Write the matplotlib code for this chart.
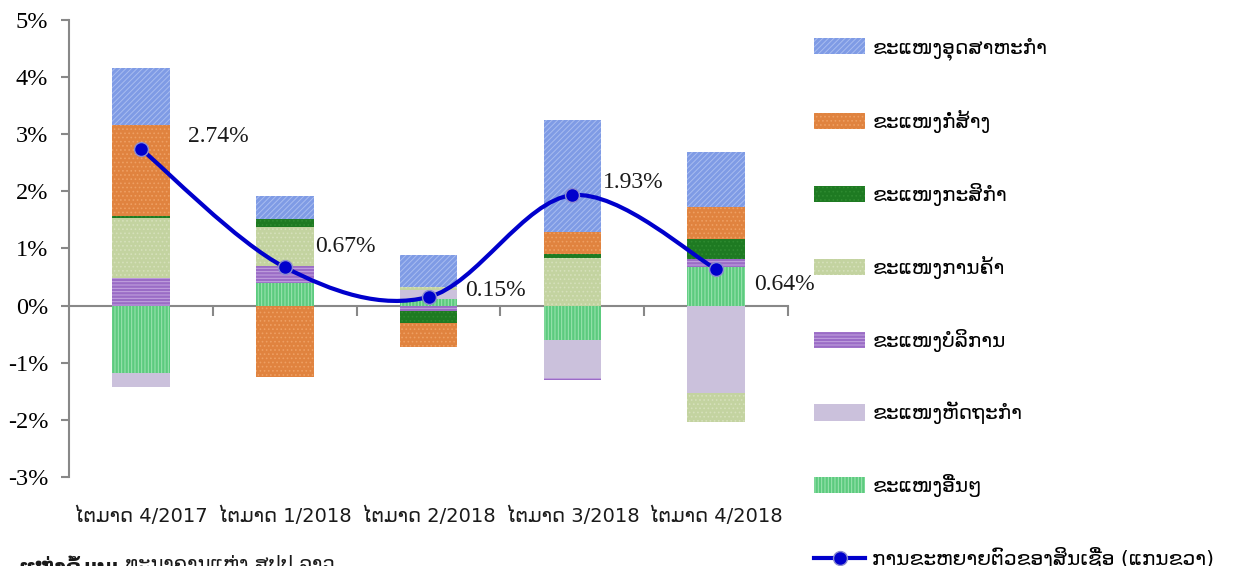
import matplotlib
matplotlib.use('Agg')
import matplotlib.pyplot as plt
from matplotlib.patches import Patch, PathPatch
from matplotlib.lines import Line2D
from matplotlib.path import Path
import numpy as np

quarters = ['ໄຕມາດ 4/2017', 'ໄຕມາດ 1/2018', 'ໄຕມາດ 2/2018', 'ໄຕມາດ 3/2018', 'ໄຕມາດ 4/2018']

# sector contributions (percentage points)
industry = [1.01, 0.40, 0.55, 1.96, 0.95]
construction = [1.59, -1.25, -0.43, 0.37, 0.57]
agriculture = [0.03, 0.15, -0.20, 0.07, 0.34]
trade = [1.04, 0.68, 0.05, 0.84, -0.51]
services = [0.49, 0.29, -0.10, -0.04, 0.15]
handicraft = [-0.24, 0.00, 0.16, -0.67, -1.53]
others = [-1.18, 0.40, 0.12, -0.60, 0.67]

credit_growth = [2.74, 0.67, 0.15, 1.93, 0.64]

names = ['ຂະແໜງອຸດສາຫະກຳ', 'ຂະແໜງກໍ່ສ້າງ', 'ຂະແໜງກະສິກຳ', 'ຂະແໜງການຄ້າ',
         'ຂະແໜງບໍລິການ', 'ຂະແໜງຫັດຖະກຳ', 'ຂະແໜງອື່ນໆ']
line_name = 'ການຂະຫຍາຍຕົວຂອງສິນເຊື່ອ (ແກນຂວາ)'
source_bold = 'ແຫຼ່ງຂໍ້ມູນ:'
source_text = ' ທະນາຄານແຫ່ງ ສປປ ລາວ'

# styles: face, hatch color, hatch
styles = {
    'industry': ('#7F9BE5', '#A8BCF0', '//////'),
    'construction': ('#E0833F', '#EE9F62', '....'),
    'agriculture': ('#1E7A22', '#2E8A30', '....'),
    'trade': ('#C3D3A0', '#D5E0BA', '....'),
    'services': ('#9A6CC6', '#C4A6E0', '-----'),
    'handicraft': ('#CBC1DC', '#CBC1DC', None),
    'others': ('#5CCB7E', '#9FE5B3', '|||||'),
}

plt.rcParams['hatch.linewidth'] = 0.7
serif = ['Liberation Serif', 'DejaVu Serif']
lao = 'DejaVu Sans'

fig = plt.figure(figsize=(12.35, 5.66), dpi=100)
ax = fig.add_axes([0.0559, 0.157, 0.5822, 0.8083])

x = np.arange(len(quarters))
# Excel stacking order (bottom first)
order = [('others', others), ('handicraft', handicraft), ('services', services),
         ('trade', trade), ('agriculture', agriculture),
         ('construction', construction), ('industry', industry)]
pos_base = np.zeros(len(x))
neg_base = np.zeros(len(x))
for key, vals in order:
    vals = np.array(vals)
    face, hc, hatch = styles[key]
    base = np.where(vals >= 0, pos_base, neg_base)
    ax.bar(x, vals, bottom=base, width=0.4, color=face, edgecolor=hc,
           hatch=hatch, linewidth=0, zorder=2)
    pos_base = pos_base + np.where(vals >= 0, vals, 0)
    neg_base = neg_base + np.where(vals < 0, vals, 0)

# smoothed line like Excel (Catmull-Rom as cubic bezier)
pts = np.column_stack([x, credit_growth]).astype(float)
verts = [pts[0]]
codes = [Path.MOVETO]
n = len(pts)
for i in range(n - 1):
    p0 = pts[max(i - 1, 0)]
    p1 = pts[i]
    p2 = pts[i + 1]
    p3 = pts[min(i + 2, n - 1)]
    verts += [p1 + (p2 - p0) / 6, p2 - (p3 - p1) / 6, p2]
    codes += [Path.CURVE4] * 3
ax.add_patch(PathPatch(Path(verts, codes), facecolor='none', edgecolor='#0000CC',
                       linewidth=3, zorder=3, capstyle='round'))
ax.plot(x, credit_growth, linestyle='none', marker='o', markersize=10,
        markerfacecolor='#0000CC', markeredgecolor='#8C8CD0', markeredgewidth=1, zorder=4)

label_offsets = [(34, 9), (22, 15), (26, 5), (22, 9), (27, -11)]
for xi, v, off in zip(x, credit_growth, label_offsets):
    ax.annotate(f'{v:.2f}%', (xi, v), xytext=off, textcoords='offset points',
                ha='left', va='center', fontsize=17, family=serif, color='#1a1a1a')

ax.set_xlim(-0.5, 4.5)
ax.set_ylim(-3, 5)
ax.set_yticks(range(-3, 6))
ax.set_yticklabels([f'{t}%' for t in range(-3, 6)], family=serif, fontsize=17.5)
ax.set_xticks(np.arange(0.5, 5, 1))
ax.set_xticklabels([])
ax.tick_params(axis='x', direction='out', length=7, width=1.5, color='#888888')
ax.tick_params(axis='y', direction='out', length=6, width=1.5, color='#888888', pad=9)
for s in ['top', 'right']:
    ax.spines[s].set_visible(False)
ax.spines['bottom'].set_position(('data', 0))
ax.spines['bottom'].set_color('#888888')
ax.spines['bottom'].set_linewidth(1.5)
ax.spines['left'].set_color('#888888')
ax.spines['left'].set_linewidth(1.5)
ax.spines['bottom'].set_zorder(1)

for xi, q in zip(x, quarters):
    ax.text(xi, -0.085, q, transform=ax.get_xaxis_transform(), ha='center', va='center',
            fontsize=14, family=lao, color='#1a1a1a')

handles = []
for key in ['industry', 'construction', 'agriculture', 'trade', 'services', 'handicraft', 'others']:
    face, hc, hatch = styles[key]
    handles.append(Patch(facecolor=face, edgecolor=hc, hatch=hatch, linewidth=0))
handles.append(Line2D([], [], color='#0000CC', linewidth=3, marker='o', markersize=10,
                      markerfacecolor='#0000CC', markeredgecolor='#8C8CD0'))
fig.legend(handles, names + [line_name], loc='upper left', bbox_to_anchor=(0.659, 0.934),
           frameon=False, prop={'family': lao, 'size': 14.5}, handlelength=2.55,
           handleheight=0.85, labelspacing=2.48, handletextpad=0.35, borderpad=0,
           borderaxespad=0)

# source line, cut by the bottom edge as in the original
t1 = fig.text(0.015, 0.019, source_bold, ha='left', va='top', fontsize=14, family=lao,
              fontweight='bold', color='#1a1a1a')
fig.add_artist(plt.Annotation(source_text, xy=(1, 1), xycoords=t1, xytext=(0, 0),
                              textcoords='offset points', ha='left', va='top',
                              fontsize=14, family=lao, color='#1a1a1a'))

fig.savefig('out.png', dpi=100)
